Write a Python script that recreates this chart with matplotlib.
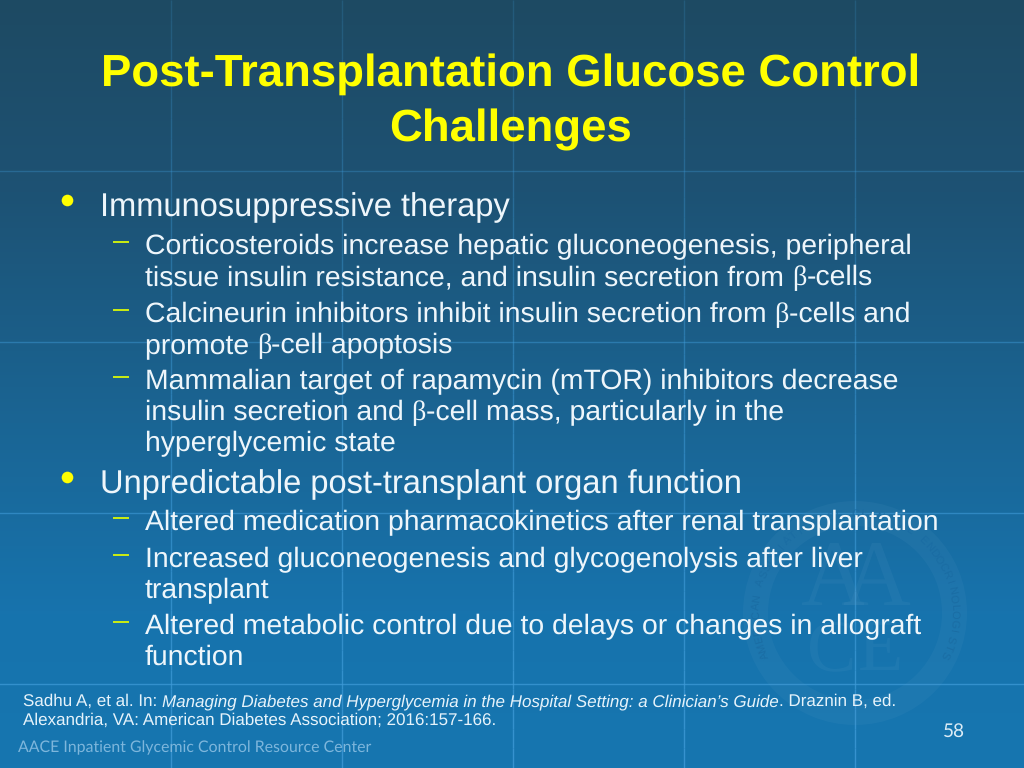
import numpy as np
import matplotlib
matplotlib.use("Agg")
import matplotlib.pyplot as plt
from matplotlib.patches import Wedge
from matplotlib.colors import LinearSegmentedColormap

plt.rcParams["text.hinting"] = "no_hinting"
plt.rcParams["text.hinting_factor"] = 8

TITLE_LINES = [("Post-Transplantation Glucose Control", 86), ("Challenges", 141)]
# (level, baseline, text, has marker) ; "|" splits off the beta run
BODY = [
    (1, 216, "Immunosuppressive therapy", True),
    (2, 254, "Corticosteroids increase hepatic gluconeogenesis, peripheral", True),
    (2, 285, "tissue insulin resistance, and insulin secretion from |\u03b2|-cells", False),
    (2, 322, "Calcineurin inhibitors inhibit insulin secretion from |\u03b2|-cells and", True),
    (2, 353, "promote |\u03b2|-cell apoptosis", False),
    (2, 389, "Mammalian target of rapamycin (mTOR) inhibitors decrease", True),
    (2, 420, "insulin secretion and |\u03b2|-cell mass, particularly in the", False),
    (2, 451, "hyperglycemic state", False),
    (1, 493, "Unpredictable post-transplant organ function", True),
    (2, 530, "Altered medication pharmacokinetics after renal transplantation", True),
    (2, 567, "Increased gluconeogenesis and glycogenolysis after liver", True),
    (2, 598, "transplant", False),
    (2, 634, "Altered metabolic control due to delays or changes in allograft", True),
    (2, 665, "function", False),
]
CITE_1 = [("Sadhu A, et al. In: ", "normal"),
          ("Managing Diabetes and Hyperglycemia in the Hospital Setting: a Clinician\u2019s Guide", "italic"),
          (". Draznin B, ed.", "normal")]
CITE_2 = "Alexandria, VA: American Diabetes Association; 2016:157-166."
FOOTER = "AACE Inpatient Glycemic Control Resource Center"
PAGE = "58"
GRID_X = [171, 342, 513, 684, 855]
GRID_Y = [171, 342, 513, 684]
SEAL_TEXT = "AMERICAN ASSOCIATION OF CLINICAL ENDOCRINOLOGISTS"

SANS = "Liberation Sans"
PX = 72 / 100  # px -> pt at dpi 100

fig = plt.figure(figsize=(10.24, 7.68), dpi=100)
ax = fig.add_axes([0, 0, 1, 1])
ax.set_xlim(0, 1024); ax.set_ylim(768, 0); ax.axis("off")

cmap = LinearSegmentedColormap.from_list("bg", [(0, "#1d4a63"), (0.25, "#1d5274"),
                                                 (0.55, "#1a6594"), (0.8, "#1773ad"), (1, "#1676b0")])
ax.imshow(np.linspace(0, 1, 256)[:, None], cmap=cmap, extent=(0, 1024, 768, 0), aspect="auto", zorder=0)

for gx in GRID_X:
    segs = np.linspace(0, 768, 40)
    for a, b in zip(segs[:-1], segs[1:]):
        ax.plot([gx, gx], [a, b], color="#3f9bd8", lw=1.0, alpha=0.2 + 0.6 * a / 768, zorder=1, solid_capstyle="butt")
for gy in GRID_Y:
    ax.plot([0, 1024], [gy, gy], color="#3f9bd8", lw=1.0, alpha=0.2 + 0.6 * gy / 768, zorder=1)

# seal watermark
sx, sy = 855, 613
seal = "#5f9fc8"
ax.add_patch(Wedge((sx, sy), 112, 0, 360, width=25, fc=seal, ec="none", alpha=0.10, zorder=1.5))
for i, ch in enumerate(SEAL_TEXT):
    ang = np.deg2rad(-115 + 230 * i / (len(SEAL_TEXT) - 1))
    px, py = sx + 99 * np.sin(ang), sy - 99 * np.cos(ang)
    ax.text(px, py, ch, color="#1a6ca3", fontsize=11 * PX, family=SANS, ha="center", va="center",
            rotation=-np.rad2deg(ang), alpha=0.9, zorder=1.6)
for ch, cx, cy, fs in [("A", 834, 582, 94), ("A", 876, 582, 94), ("C", 832, 652, 74), ("E", 880, 652, 74)]:
    ax.text(cx, cy, ch, color=seal, alpha=0.12, fontsize=fs * PX, family="Liberation Serif",
            ha="center", va="center", zorder=1.6)

fig.canvas.draw()
rend = fig.canvas.get_renderer()


def width(txt, fam, style, size):
    a = ax.text(0, 0, "|" + txt + "|", fontsize=size * PX, family=fam, style=style)
    b = ax.text(0, 0, "||", fontsize=size * PX, family=fam, style=style)
    w = a.get_window_extent(rend).width - b.get_window_extent(rend).width
    a.remove(); b.remove()
    return w


def runs(x, y, parts, size, color):
    for txt, fam, style in parts:
        ax.text(x, y, txt, color=color, fontsize=size * PX, family=fam, style=style,
                ha="left", va="baseline", zorder=3)
        x += width(txt, fam, style, size)
    return x


for txt, base in TITLE_LINES:
    ax.text(511, base, txt, color="#ffff00", fontsize=45.5 * PX, family=SANS, weight="bold",
            ha="center", va="baseline", zorder=3)

for level, base, txt, mark in BODY:
    size = 32.7 if level == 1 else 28.45
    x0 = 100 if level == 1 else 145
    parts = []
    for i, p in enumerate(txt.split("|")):
        if i % 2:
            parts.append((p, "Liberation Serif", "normal"))
        elif p:
            parts.append((p, SANS, "normal"))
    runs(x0, base, parts, size, "#eef6fb")
    if mark:
        if level == 1:
            ax.scatter([67], [base - 16], s=70, color="#ffff00", lw=0, zorder=3)
        else:
            ax.plot([113, 129], [base - 12, base - 12], color="#ccee11", lw=1.4, zorder=3, solid_capstyle="butt")

runs(23, 706, [(t, SANS, s) for t, s in CITE_1], 17.0, "#e6f3fb")
ax.text(23, 725, CITE_2, color="#e6f3fb", fontsize=17.0 * PX, family=SANS, va="baseline", zorder=3)
ax.text(18, 752, FOOTER, color="#7db6dc", fontsize=15.85 * PX, family="Lato", va="baseline", zorder=3)
ax.text(943, 737, PAGE, color="#dcecf6", fontsize=19 * PX, family="Lato", va="baseline", zorder=3)

fig.savefig("out.png", dpi=100)
